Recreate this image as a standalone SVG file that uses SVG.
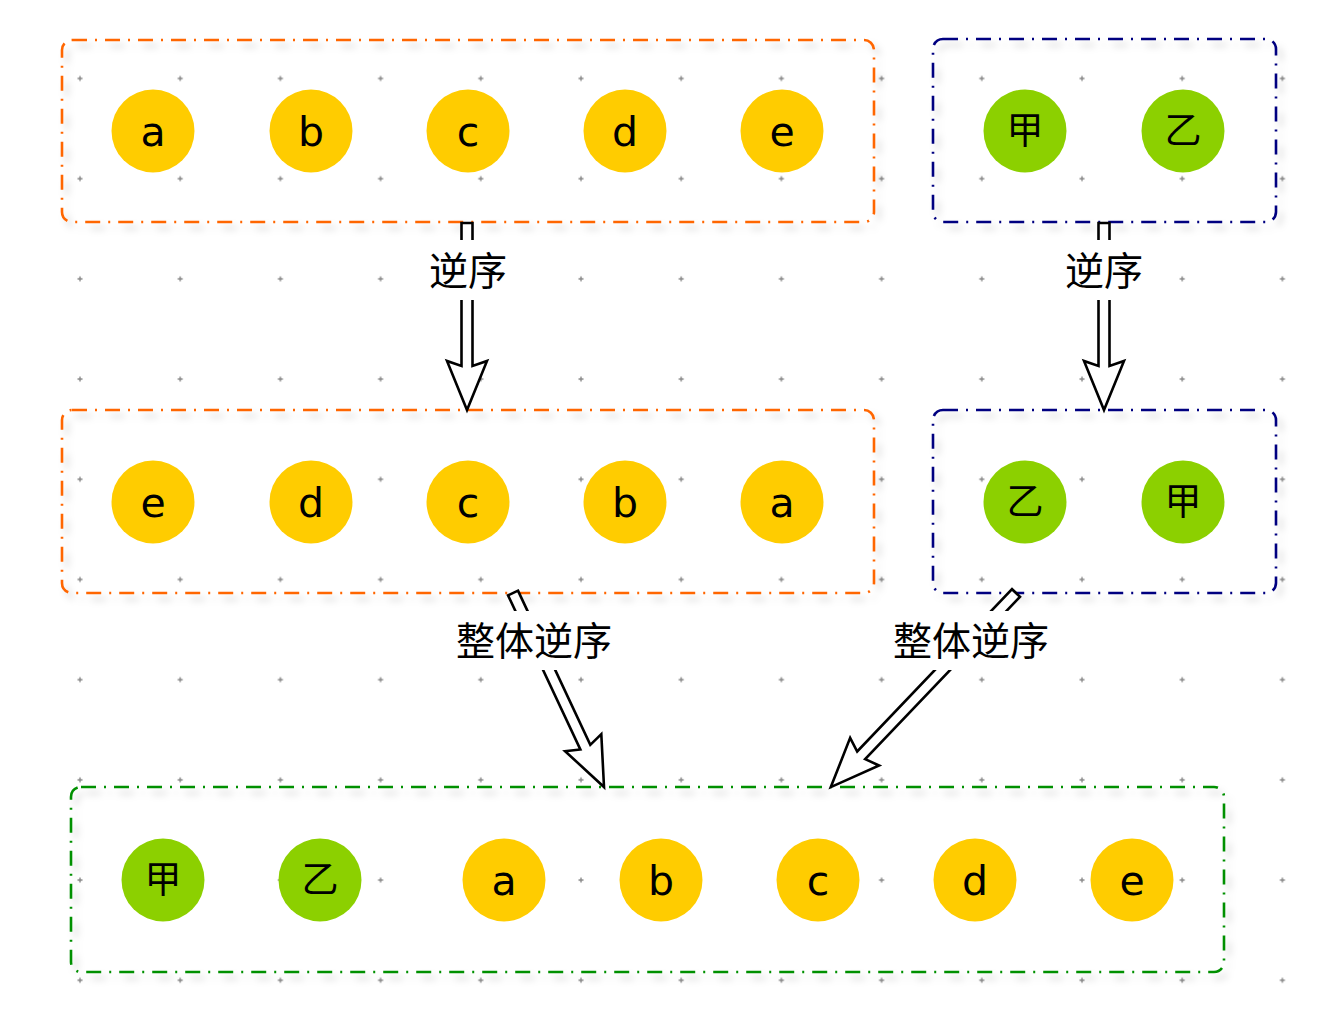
<svg xmlns="http://www.w3.org/2000/svg" width="1332" height="1028" viewBox="0 0 1332 1028">
<defs>
  <pattern id="grid" patternUnits="userSpaceOnUse" x="77" y="75.5" width="100.2" height="100.2">
    <path d="M0.5 3H5.5M3 0.5V5.5" stroke="#888" stroke-width="1.4" fill="none"/>
  </pattern>
  <filter id="shadow" x="-5%" y="-10%" width="115%" height="130%">
    <feDropShadow dx="5" dy="6" stdDeviation="3.5" flood-color="#000" flood-opacity="0.18"/>
  </filter>
</defs>
<style>
  .box { fill: none; stroke-width: 2.6; stroke-dasharray: 15 8 2 8; filter: url(#shadow); }
  .orange { stroke: #FF6600; }
  .navy { stroke: #000080; }
  .green { stroke: #009000; }
  .y { fill: #FFCC00; }
  .g { fill: #8CD000; }
  .lt { font-family: "DejaVu Sans", "Noto Sans CJK SC", sans-serif; font-size: 41px; fill: #000; text-anchor: middle; }
  .ct { font-family: "Noto Sans CJK SC", sans-serif; font-size: 37px; fill: #000; text-anchor: middle; }
  .lbl { font-family: "Noto Sans CJK SC", sans-serif; font-size: 39px; fill: #000; text-anchor: middle; }
  .arrow { fill: #fff; stroke: #000; stroke-width: 2.6; stroke-linejoin: miter; }
</style>
<rect width="1332" height="1028" fill="#fff"/>
<rect width="1332" height="1028" fill="url(#grid)"/>

<g id="containers">
  <rect id="box-top-left" class="box orange" x="62" y="40" width="812" height="182" rx="10"/>
  <rect id="box-top-right" class="box navy" x="933" y="39" width="343" height="183" rx="10"/>
  <rect id="box-mid-left" class="box orange" x="62" y="410" width="812" height="183" rx="10"/>
  <rect id="box-mid-right" class="box navy" x="933" y="410" width="343" height="183" rx="10"/>
  <rect id="box-bottom" class="box green" x="71" y="787" width="1153" height="185" rx="10"/>
</g>

<g id="connectors">
  <g id="arrow1" transform="translate(467,223) rotate(90)">
    <polygon class="arrow" points="0,-5.5 143,-5.5 138,-20 187,0 138,20 143,5.5 0,5.5"/>
  </g>
  <g id="arrow2" transform="translate(1104,223) rotate(90)">
    <polygon class="arrow" points="0,-5.5 143,-5.5 138,-20 187,0 138,20 143,5.5 0,5.5"/>
  </g>
  <g id="arrow3" transform="translate(513,593) rotate(64.87)">
    <polygon class="arrow" points="0,-5.5 170.3,-5.5 165.3,-20 214.3,0 165.3,20 170.3,5.5 0,5.5"/>
  </g>
  <g id="arrow4" transform="translate(1016,593) rotate(133.65)">
    <polygon class="arrow" points="0,-5.5 224.3,-5.5 219.3,-20 268.3,0 219.3,20 224.3,5.5 0,5.5"/>
  </g>
  <g id="label1">
    <rect x="427" y="240" width="82" height="60" fill="#fff"/>
    <text class="lbl" x="468" y="285">逆序</text>
  </g>
  <g id="label2">
    <rect x="1064" y="240" width="82" height="60" fill="#fff"/>
    <text class="lbl" x="1104" y="285">逆序</text>
  </g>
  <g id="label3">
    <rect x="451" y="611" width="166" height="59" fill="#fff"/>
    <text class="lbl" x="534" y="655">整体逆序</text>
  </g>
  <g id="label4">
    <rect x="888" y="611" width="166" height="59" fill="#fff"/>
    <text class="lbl" x="971" y="655">整体逆序</text>
  </g>
</g>

<g id="n-top-a"><circle class="y" cx="153" cy="131" r="41.5"/><text class="lt" x="153" y="146">a</text></g>
<g id="n-top-b"><circle class="y" cx="311" cy="131" r="41.5"/><text class="lt" x="311" y="146">b</text></g>
<g id="n-top-c"><circle class="y" cx="468" cy="131" r="41.5"/><text class="lt" x="468" y="146">c</text></g>
<g id="n-top-d"><circle class="y" cx="625" cy="131" r="41.5"/><text class="lt" x="625" y="146">d</text></g>
<g id="n-top-e"><circle class="y" cx="782" cy="131" r="41.5"/><text class="lt" x="782" y="146">e</text></g>
<g id="n-top-jia"><circle class="g" cx="1025" cy="131" r="41.5"/><text class="ct" x="1025" y="144">甲</text></g>
<g id="n-top-yi"><circle class="g" cx="1183" cy="131" r="41.5"/><text class="ct" x="1183" y="144">乙</text></g>

<g id="n-mid-e"><circle class="y" cx="153" cy="502" r="41.5"/><text class="lt" x="153" y="517">e</text></g>
<g id="n-mid-d"><circle class="y" cx="311" cy="502" r="41.5"/><text class="lt" x="311" y="517">d</text></g>
<g id="n-mid-c"><circle class="y" cx="468" cy="502" r="41.5"/><text class="lt" x="468" y="517">c</text></g>
<g id="n-mid-b"><circle class="y" cx="625" cy="502" r="41.5"/><text class="lt" x="625" y="517">b</text></g>
<g id="n-mid-a"><circle class="y" cx="782" cy="502" r="41.5"/><text class="lt" x="782" y="517">a</text></g>
<g id="n-mid-yi"><circle class="g" cx="1025" cy="502" r="41.5"/><text class="ct" x="1025" y="515">乙</text></g>
<g id="n-mid-jia"><circle class="g" cx="1183" cy="502" r="41.5"/><text class="ct" x="1183" y="515">甲</text></g>

<g id="n-bot-jia"><circle class="g" cx="163" cy="880" r="41.5"/><text class="ct" x="163" y="893">甲</text></g>
<g id="n-bot-yi"><circle class="g" cx="320" cy="880" r="41.5"/><text class="ct" x="320" y="893">乙</text></g>
<g id="n-bot-a"><circle class="y" cx="504" cy="880" r="41.5"/><text class="lt" x="504" y="895">a</text></g>
<g id="n-bot-b"><circle class="y" cx="661" cy="880" r="41.5"/><text class="lt" x="661" y="895">b</text></g>
<g id="n-bot-c"><circle class="y" cx="818" cy="880" r="41.5"/><text class="lt" x="818" y="895">c</text></g>
<g id="n-bot-d"><circle class="y" cx="975" cy="880" r="41.5"/><text class="lt" x="975" y="895">d</text></g>
<g id="n-bot-e"><circle class="y" cx="1132" cy="880" r="41.5"/><text class="lt" x="1132" y="895">e</text></g>
</svg>
